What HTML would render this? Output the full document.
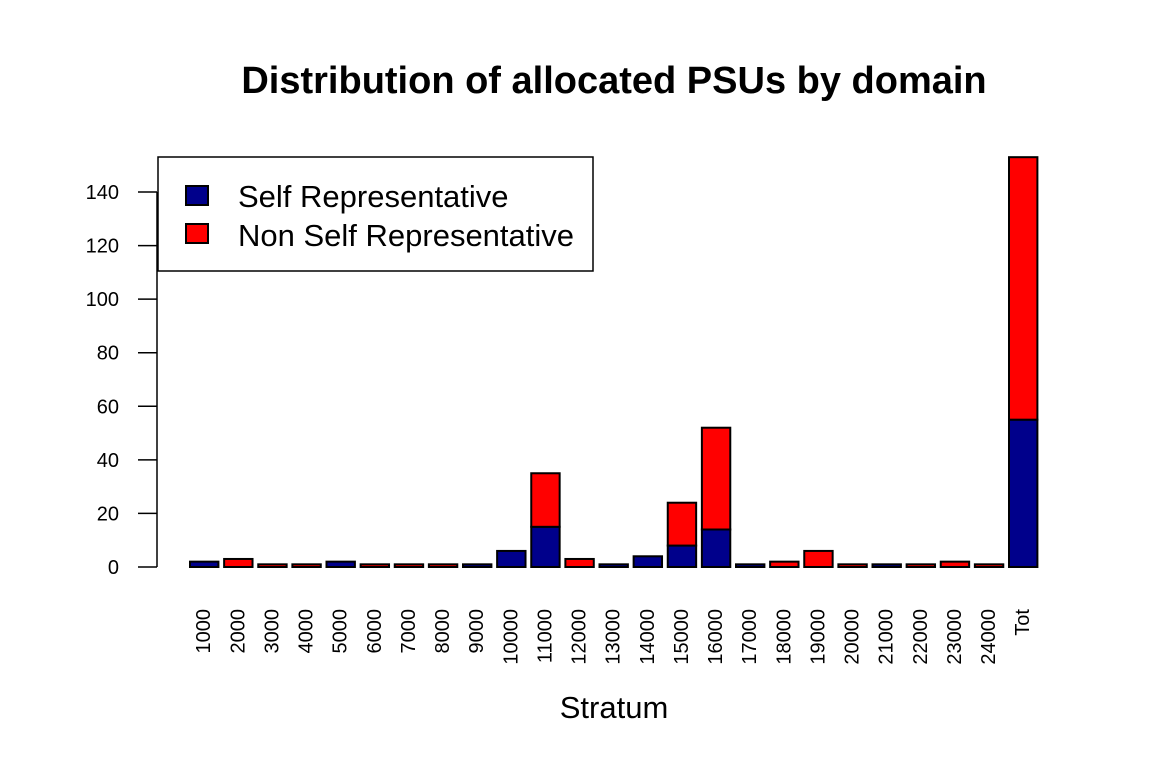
<!DOCTYPE html>
<html><head><meta charset="utf-8"><style>
body{margin:0;background:#fff}
svg{display:block;font-family:"Liberation Sans",Arial,sans-serif}
</style></head><body>
<svg id="chart" width="1152" height="768" xmlns="http://www.w3.org/2000/svg">
<rect width="1152" height="768" fill="#fff"/>
<text x="614" y="93" text-anchor="middle" font-size="38" font-weight="bold">Distribution of allocated PSUs by domain</text>
<text x="614" y="718" text-anchor="middle" font-size="31">Stratum</text>
<g id="yaxis"></g>
<g id="bars"></g>
<g id="xlabels"></g>
<g>
<rect x="158" y="157" width="435" height="114" fill="#fff" stroke="#000" stroke-width="1.5"/>
<rect x="186" y="186" width="22" height="19" fill="#00008B" stroke="#000" stroke-width="2"/>
<text x="238" y="207" font-size="31">Self Representative</text>
<rect x="186" y="224" width="22" height="19" fill="#FF0000" stroke="#000" stroke-width="2"/>
<text x="238" y="246" font-size="31">Non Self Representative</text>
</g>
</svg>
<script>
const categories = ["1000","2000","3000","4000","5000","6000","7000","8000","9000","10000","11000","12000","13000","14000","15000","16000","17000","18000","19000","20000","21000","22000","23000","24000","Tot"];
const selfRep = [2,0,0,0,2,0,0,0,1,6,15,0,1,4,8,14,1,0,0,0,1,0,0,0,55];
const nonSelfRep = [0,3,1,1,0,1,1,1,0,0,20,3,0,0,16,38,0,2,6,1,0,1,2,1,98];
const yTicks = [0,20,40,60,80,100,120,140];

const NS="http://www.w3.org/2000/svg";
function y(v){return 567 - v*(375/140);}
function xLeft(i){return 190 + i*34.125;}
const bw=28.4;
function mk(tag,attrs,parent){const e=document.createElementNS(NS,tag);for(const k in attrs)e.setAttribute(k,attrs[k]);parent.appendChild(e);return e;}
const ya=document.getElementById('yaxis');
const ln=mk('line',{x1:157,x2:157,y1:y(0),y2:y(140),stroke:'#000','stroke-width':1.5},ya);


yTicks.forEach(t=>{
  const tk=mk('line',{x1:138,x2:157,y1:y(t),y2:y(t),stroke:'#000','stroke-width':1.5},ya);
  
  
  const tx=mk('text',{x:119,y:y(t)+7,'text-anchor':'end','font-size':20},ya);
  
  
  tx.textContent=t;
});
const bg=document.getElementById('bars');
const xl=document.getElementById('xlabels');
categories.forEach((c,i)=>{
  const x=xLeft(i);
  const s=selfRep[i], n=nonSelfRep[i];
  const r1=mk('rect',{x:x,y:y(s),width:bw,height:y(0)-y(s),fill:'#00008B',stroke:'#000','stroke-width':2},bg);
  
  
  const r2=mk('rect',{x:x,y:y(s+n),width:bw,height:y(s)-y(s+n),fill:'#FF0000',stroke:'#000','stroke-width':2},bg);
  
  
  const cx=x+bw/2;
  const t=mk('text',{x:0,y:0,'text-anchor':'end','font-size':20,'dominant-baseline':'central',transform:'translate('+cx+',609) rotate(-90)'},xl);
  
  
  t.textContent=c;
});
</script>
</body></html>
